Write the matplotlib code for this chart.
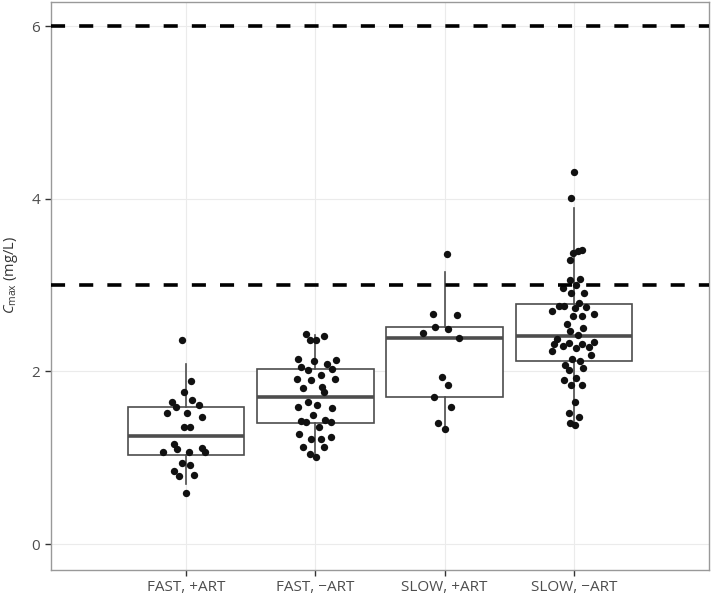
import numpy as np
import matplotlib
matplotlib.use('Agg')
import matplotlib.pyplot as plt

plt.rcParams['font.family'] = ['Open Sans', 'DejaVu Sans']
plt.rcParams['mathtext.fontset'] = 'custom'
plt.rcParams['mathtext.rm'] = 'Open Sans'
plt.rcParams['mathtext.it'] = 'Open Sans:italic'

# categories
groups = ['FAST, +ART', 'FAST, \u2212ART', 'SLOW, +ART', 'SLOW, \u2212ART']

# box statistics (mg/L)
q1 = [1.03, 1.40, 1.70, 2.12]
med = [1.25, 1.70, 2.39, 2.41]
q3 = [1.59, 2.03, 2.52, 2.78]
whis_lo = [0.70, 1.00, 1.32, 1.38]
whis_hi = [2.09, 2.42, 3.15, 3.89]

# individual points: Cmax values and horizontal jitter
g1_val = [2.36, 1.895, 1.767, 1.67, 1.647, 1.585, 1.61, 1.52, 1.52, 1.475, 1.357, 1.354,
          1.16, 1.105, 1.07, 1.07, 1.11, 1.067, 0.936, 0.92, 0.843, 0.785, 0.797, 0.588]
g1_jit = [-0.03, 0.036, -0.016, 0.044, -0.11, -0.075, 0.098, -0.15, 0.01, 0.124, -0.016, 0.031,
          -0.09, -0.072, -0.176, 0.026, 0.124, 0.147, -0.031, 0.033, -0.095, -0.052, 0.06, 0.0]

g2_val = [2.433, 2.36, 2.36, 2.41, 2.15, 2.12, 2.09, 2.135, 2.057, 2.02, 2.023, 1.96,
          1.907, 1.9, 1.907, 1.807, 1.818, 1.767, 1.644, 1.61, 1.585, 1.578, 1.493, 1.427,
          1.415, 1.435, 1.415, 1.357, 1.272, 1.218, 1.218, 1.24, 1.125, 1.122, 1.04, 1.005]
g2_jit = [-0.07, -0.044, 0.005, 0.064, -0.134, -0.008, 0.09, 0.157, -0.109, -0.06, 0.13, 0.04,
          -0.145, -0.03, 0.153, -0.093, 0.05, 0.068, -0.054, 0.013, -0.134, 0.13, -0.018, -0.114,
          -0.07, 0.072, 0.12, 0.029, -0.126, -0.036, 0.044, 0.124, -0.095, 0.068, -0.044, 0.002]

g3_val = [3.366, 2.668, 2.653, 2.513, 2.49, 2.45, 2.39, 1.934, 1.841, 1.705, 1.593, 1.40, 1.33]
g3_jit = [0.016, -0.088, 0.095, -0.073, 0.026, -0.166, 0.113, -0.023, 0.028, -0.083, 0.051, -0.05, 0.002]

g4_val = [4.315, 4.006, 3.376, 3.39, 3.407, 3.287, 3.055, 3.074, 2.997, 2.966, 2.904, 2.908,
          2.788, 2.753, 2.753, 2.734, 2.745, 2.706, 2.648, 2.645, 2.668, 2.552, 2.498, 2.468,
          2.417, 2.378, 2.347, 2.32, 2.297, 2.324, 2.266, 2.32, 2.289, 2.239, 2.185, 2.08,
          2.142, 2.12, 2.019, 2.039, 1.906, 1.926, 1.841, 1.845, 1.644, 1.523, 1.47, 1.408, 1.381]
g4_jit = [0.0, -0.02, -0.005, 0.033, 0.064, -0.031, -0.029, 0.047, 0.016, -0.083, -0.021, 0.08,
          0.041, -0.114, -0.078, 0.01, 0.095, -0.168, -0.01, 0.064, 0.152, -0.057, 0.07, -0.033,
          0.029, -0.134, 0.152, -0.157, -0.083, -0.039, 0.013, 0.06, 0.116, -0.168, 0.132, -0.07,
          -0.013, 0.047, -0.039, 0.07, -0.08, 0.013, -0.021, 0.06, 0.01, -0.041, 0.039, -0.029, 0.008]

# reference thresholds
thresholds = [3, 6]

vals = [g1_val, g2_val, g3_val, g4_val]
jits = [g1_jit, g2_jit, g3_jit, g4_jit]
pos = np.arange(1, len(groups) + 1)

fig = plt.figure(figsize=(7.11, 5.96), dpi=100)
ax = fig.add_axes([51 / 711, 26 / 596, 658 / 711, 568 / 596])

# grid
ax.set_axisbelow(True)
ax.grid(True, color='#ebebeb', linewidth=0.8)

stats = []
for i in range(len(groups)):
    stats.append({'q1': q1[i], 'med': med[i], 'q3': q3[i],
                  'whislo': whis_lo[i], 'whishi': whis_hi[i], 'fliers': []})

ax.bxp(stats, positions=pos, widths=0.9, showfliers=False, showcaps=False,
       patch_artist=True,
       boxprops=dict(facecolor='white', edgecolor='#4d4d4d', linewidth=1.2),
       whiskerprops=dict(color='#4d4d4d', linewidth=1.2),
       medianprops=dict(color='#4d4d4d', linewidth=2.6, solid_capstyle='butt'),
       zorder=2)

for p, v, j in zip(pos, vals, jits):
    ax.scatter(p + np.array(j), v, s=28, color='#111111', linewidths=0, zorder=3)

for t in thresholds:
    ax.axhline(t, color='black', linewidth=2.6, dashes=(3.9, 3.9), zorder=4)

ax.set_xlim(-0.044, 5.044)
ax.set_ylim(-0.30, 6.28)
ax.set_yticks([0, 2, 4, 6])
ax.set_xticks(pos)
ax.set_xticklabels(groups)

for s in ax.spines.values():
    s.set_color('#999999')
    s.set_linewidth(1.0)

ax.tick_params(axis='both', colors='#333333', length=4, width=1.0,
               labelcolor='#4d4d4d', labelsize=11)
ax.tick_params(axis='x', pad=3)
ax.tick_params(axis='y', pad=4)

ax.set_ylabel(r'$C_{\mathrm{max}}$ (mg/L)', fontsize=10.5, color='#333333')
ax.yaxis.set_label_coords(-0.047, 0.52)

fig.savefig('out.png', dpi=100)
